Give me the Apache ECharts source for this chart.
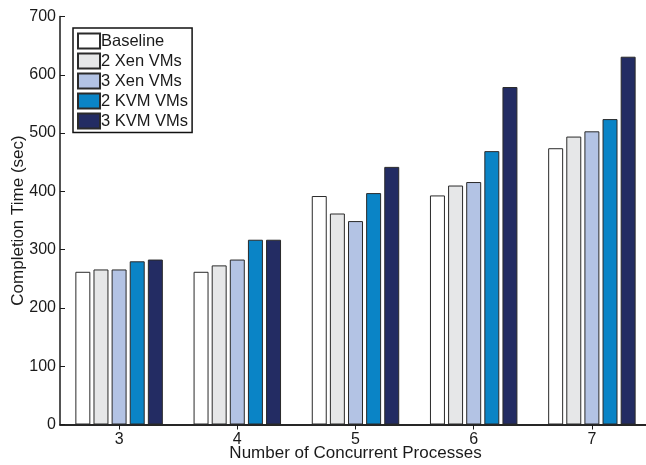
<!DOCTYPE html>
<html>
<head>
<meta charset="utf-8">
<script src="https://cdn.jsdelivr.net/npm/echarts@6/dist/echarts.min.js"></script>
<style>
  html, body { margin: 0; padding: 0; background: #fff; }
  #chart { width: 646px; height: 465px; }
</style>
</head>
<body>
<div id="chart"></div>
<script>
// Concurrent process counts on the x axis
const categories = ['3', '4', '5', '6', '7'];

// Completion time (seconds) per configuration
const baseline = [262, 262, 392, 393, 474];
const xen2 = [266, 273, 362, 410, 494];
const xen3 = [266, 283, 349, 416, 503];
const kvm2 = [280, 317, 397, 469, 524];
const kvm3 = [283, 317, 442, 579, 631];

const seriesNames = ['Baseline', '2 Xen VMs', '3 Xen VMs', '2 KVM VMs', '3 KVM VMs'];
const seriesValues = [baseline, xen2, xen3, kvm2, kvm3];
const seriesColors = ['#ffffff', '#e6e7e8', '#b3c3e4', '#0a84c6', '#232c63'];

const FONT = 'Liberation Sans';
const INK = '#1a1a1a';

const chart = echarts.init(document.getElementById('chart'), null, { renderer: 'canvas' });

const series = seriesNames.map((name, i) => ({
  name: name,
  type: 'bar',
  data: seriesValues[i],
  barGap: '21%',
  barCategoryGap: '26%',
  itemStyle: {
    color: seriesColors[i],
    borderColor: '#2a2a2a',
    borderWidth: 1
  },
  emphasis: { disabled: true }
}));

chart.setOption({
  animation: false,
  textStyle: { fontFamily: FONT },
  grid: {
    left: 60, top: 16.5, width: 591, height: 408,
    containLabel: false,
    outerBoundsMode: 'none'
  },
  legend: {
    orient: 'vertical',
    left: 73,
    top: 28,
    data: seriesNames,
    icon: 'rect',
    itemWidth: 22,
    itemHeight: 15,
    itemGap: 3,
    padding: [4.5, 4, 3, 4],
    borderColor: '#111',
    borderWidth: 1.5,
    backgroundColor: '#fff',
    selectedMode: false,
    textStyle: { fontFamily: FONT, fontSize: 16.5, color: INK, padding: [0, 0, 0, -4] }
  },
  xAxis: [
    {
      type: 'category',
      data: categories,
      position: 'bottom',
      name: 'Number of Concurrent Processes',
      nameLocation: 'middle',
      nameGap: 20,
      nameMoveOverlap: false,
      nameTextStyle: { fontFamily: FONT, fontSize: 17, color: INK },
      axisLine: { show: true, lineStyle: { color: INK, width: 1.5 } },
      axisTick: { show: false },
      axisLabel: { fontFamily: FONT, fontSize: 16, color: INK, margin: 7 },
      splitLine: { show: false }
    },
    {
      type: 'category',
      data: categories,
      position: 'top',
      axisLine: { show: true, lineStyle: { color: INK, width: 1.5 } },
      axisTick: { show: true, inside: true, alignWithLabel: true, length: 5, lineStyle: { color: INK } },
      axisLabel: { show: false },
      splitLine: { show: false }
    }
  ],
  yAxis: [
    {
      type: 'value',
      min: 0,
      max: 700,
      interval: 100,
      position: 'left',
      name: 'Completion Time (sec)',
      nameLocation: 'middle',
      nameGap: 33,
      nameMoveOverlap: false,
      nameTextStyle: { fontFamily: FONT, fontSize: 17, color: INK },
      axisLine: { show: true, lineStyle: { color: INK, width: 1.5 } },
      axisTick: { show: true, inside: true, length: 5, lineStyle: { color: INK } },
      axisLabel: { fontFamily: FONT, fontSize: 16, color: INK, margin: 4 },
      splitLine: { show: false }
    },
    {
      type: 'value',
      min: 0,
      max: 700,
      interval: 100,
      position: 'right',
      axisLine: { show: true, lineStyle: { color: INK, width: 1.5 } },
      axisTick: { show: true, inside: true, length: 5, lineStyle: { color: INK } },
      axisLabel: { show: false },
      splitLine: { show: false }
    }
  ],
  series: series
});
</script>
</body>
</html>
